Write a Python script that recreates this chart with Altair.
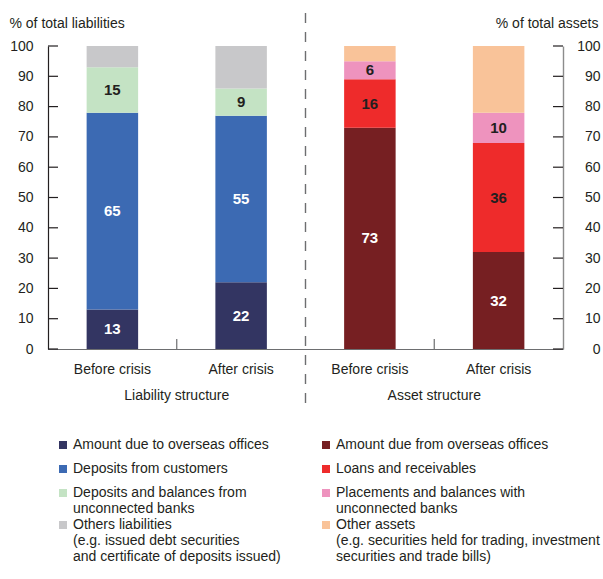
import altair as alt
import pandas as pd

# ---------------- data ----------------
sides = ["Liability structure", "Asset structure"]
periods = ["Before crisis", "After crisis"]

liab_names = [
    "Amount due to overseas offices",
    "Deposits from customers",
    "Deposits and balances from\nunconnected banks",
    "Others liabilities\n(e.g. issued debt securities\nand certificate of deposits issued)",
]
liab_before = [13, 65, 15, 7]
liab_after = [22, 55, 9, 14]
liab_colors = ["#333562", "#3C6AB3", "#C4E3C4", "#C8C8CA"]
liab_label_on_dark = [True, True, False, False]

asset_names = [
    "Amount due from overseas offices",
    "Loans and receivables",
    "Placements and balances with\nunconnected banks",
    "Other assets\n(e.g. securities held for trading, investment\nsecurities and trade bills)",
]
asset_before = [73, 16, 6, 5]
asset_after = [32, 36, 10, 22]
asset_colors = ["#761F22", "#EE2B2B", "#EE93BE", "#F9C399"]
asset_label_on_dark = [True, False, False, False]

show_value = [True, True, True, False]
y_ticks = [0, 10, 20, 30, 40, 50, 60, 70, 80, 90, 100]

# ---------------- table ----------------
keys = [s + "|" + p for s in sides for p in periods]
rows = []
for side, names, vals_by_period, dark in [
    (sides[0], liab_names, [liab_before, liab_after], liab_label_on_dark),
    (sides[1], asset_names, [asset_before, asset_after], asset_label_on_dark),
]:
    for period, vals in zip(periods, vals_by_period):
        for i, v in enumerate(vals):
            rows.append({
                "key": side + "|" + period,
                "side": side,
                "series": names[i],
                "idx": i,
                "value": v,
                "show": show_value[i],
                "txtcol": "white" if dark[i] else "#231F20",
            })
df = pd.DataFrame(rows)

FONT = "Liberation Sans"
TXT = "#231F20"
W, H = 515, 303

xscale = alt.Scale(domain=keys, paddingInner=0, paddingOuter=0)
yscale = alt.Scale(domain=[0, 100], nice=False)

base = alt.Chart(df).transform_stack(
    stack="value", groupby=["key"], as_=["y0", "y1"],
    sort=[alt.SortField("idx", order="ascending")]
).transform_calculate(mid="(datum.y0 + datum.y1) / 2")

xaxis = alt.Axis(
    title=None, labelExpr="split(datum.label, '|')[1]", labelAngle=0,
    ticks=False, tickSize=0, labelPadding=13, domainColor="#6D6E70",
    domainWidth=1.2, labelFont=FONT, labelFontSize=14, labelColor=TXT,
)
yaxis_left = alt.Axis(
    title="% of total liabilities", titleAngle=0, titleAlign="left",
    titleBaseline="alphabetic", titleX=-39, titleY=-19,
    titleFont=FONT, titleFontSize=14, titleFontWeight="normal", titleColor=TXT,
    values=y_ticks, ticks=False, tickSize=0, labelPadding=15,
    labelFont=FONT, labelFontSize=14, labelColor=TXT,
    domainColor=TXT, domainWidth=1.2, grid=False,
)


def legend(x, y):
    return alt.Legend(
        title=None, orient="none", legendX=x, legendY=y, direction="vertical",
        symbolType="square", symbolSize=64, symbolStrokeWidth=0,
        labelFont=FONT, labelFontSize=14, labelColor=TXT, labelOffset=3,
        labelExpr="split(datum.label, '\\n')", rowPadding=10, padding=0,
        labelLimit=500,
    )


def bars(side_i, names, colors, lo, hi, lx, ly, with_axes):
    if with_axes:
        x = alt.X("key:N", scale=xscale, axis=xaxis, sort=keys)
        y = alt.Y("y0:Q", scale=yscale, axis=yaxis_left)
    else:
        x = alt.X("key:N", scale=xscale, sort=keys)
        y = alt.Y("y0:Q", scale=yscale, axis=None)
    return base.transform_filter(
        (alt.datum.side == sides[side_i]) & (alt.datum.idx >= lo) & (alt.datum.idx < hi)
    ).mark_bar(width=alt.RelativeBandSize(0.4)).encode(
        x=x, y=y, y2="y1:Q",
        color=alt.Color("series:N",
                        scale=alt.Scale(domain=names[lo:hi], range=colors[lo:hi]),
                        legend=legend(lx, ly)),
    )


LEG_Y1, LEG_Y2 = 392, 472
liab_bars_a = bars(0, liab_names, liab_colors, 0, 3, 8, LEG_Y1, True)
liab_bars_b = bars(0, liab_names, liab_colors, 3, 4, 8, LEG_Y2, False)
asset_bars_a = bars(1, asset_names, asset_colors, 0, 3, 271, LEG_Y1, False)
asset_bars_b = bars(1, asset_names, asset_colors, 3, 4, 271, LEG_Y2, False)

value_labels = base.transform_filter(alt.datum.show == True).mark_text(
    font=FONT, fontSize=15, fontWeight="bold", baseline="middle"
).encode(
    x=alt.X("key:N", scale=xscale, sort=keys),
    y=alt.Y("mid:Q", scale=yscale, axis=None),
    text=alt.Text("value:Q"),
    color=alt.Color("txtcol:N", scale=None),
)

tick_df = pd.DataFrame({"t": y_ticks})
left_ticks = alt.Chart(tick_df).mark_rule(color=TXT, strokeWidth=1.2).encode(
    y=alt.Y("t:Q", scale=yscale, axis=None),
    x=alt.value(0), x2=alt.value(10),
)
right_ticks = alt.Chart(tick_df).mark_rule(color=TXT, strokeWidth=1.2).encode(
    y=alt.Y("t:Q", scale=yscale, axis=alt.Axis(
        orient="right", title="% of total assets", titleAngle=0, titleAlign="right",
        titleBaseline="alphabetic", titleX=35, titleY=-19,
        titleFont=FONT, titleFontSize=14, titleFontWeight="normal", titleColor=TXT,
        values=y_ticks, ticks=False, tickSize=0, labelPadding=37, labelAlign="right",
        labelFont=FONT, labelFontSize=14, labelColor=TXT,
        domainColor="#8C8C8C", domainWidth=1.4, grid=False,
    )),
    x=alt.value(W - 10), x2=alt.value(W),
)

group_df = pd.DataFrame({"key": [sides[0] + "|" + periods[1], sides[1] + "|" + periods[1]],
                         "side": sides})
x_ticks = alt.Chart(group_df).mark_rule(color="#6D6E70", strokeWidth=1.2).encode(
    x=alt.X("key:N", scale=xscale, sort=keys, bandPosition=0),
    y=alt.value(H), y2=alt.value(H - 10),
)
group_labels = alt.Chart(group_df).mark_text(
    font=FONT, fontSize=14, color=TXT, baseline="middle"
).encode(
    x=alt.X("key:N", scale=xscale, sort=keys, bandPosition=0),
    y=alt.value(H + 47),
    text="side:N",
)

sep_df = pd.DataFrame({"key": [sides[1] + "|" + periods[0]]})
separator = alt.Chart(sep_df).mark_rule(
    color="#6D6E70", strokeWidth=1.4, strokeDash=[10, 9]
).encode(
    x=alt.X("key:N", scale=xscale, sort=keys, bandPosition=0),
    y=alt.value(-33), y2=alt.value(361),
)

chart = alt.layer(
    liab_bars_a, liab_bars_b, asset_bars_a, asset_bars_b, value_labels,
    left_ticks, right_ticks, x_ticks, group_labels, separator,
).resolve_scale(color="independent").resolve_axis(y="independent").properties(
    width=W, height=H,
    autosize=alt.AutoSizeParams(type="none"),
    padding={"left": 48, "top": 46, "right": 40, "bottom": 230},
).configure_view(stroke=None)

chart.save("out.html", embed_options={"renderer": "svg", "actions": False})
